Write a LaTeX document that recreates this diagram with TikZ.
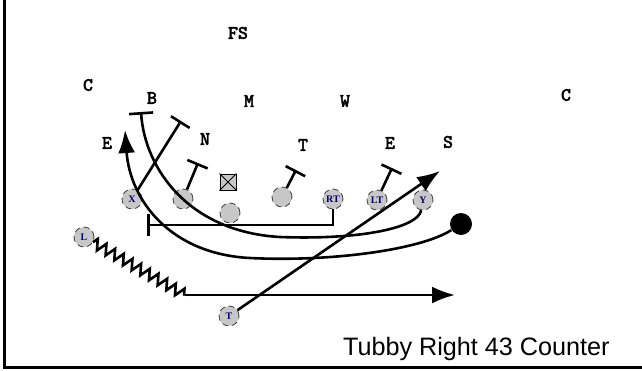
\documentclass[tikz,border=0pt]{standalone}
\usepackage{fontspec}
\setmainfont{Liberation Sans}
\newfontfamily\monob[AutoFakeBold=2.5]{Latin Modern Mono}
\newfontfamily\serifb{Liberation Serif}
\usetikzlibrary{arrows.meta,decorations.pathmorphing}

\begin{document}
\begin{tikzpicture}[
x=0.5pt, y=-0.5pt,
def/.style={font=\monob\bfseries\fontsize{9.5}{9.5}\selectfont, inner sep=0pt},
pl/.style={circle, draw=black!75, densely dashed, line width=0.4pt, fill=black!22, minimum size=10pt, inner sep=0pt, font=\serifb\bfseries\fontsize{5}{5}\selectfont, text=blue!40!black},
blk/.style={-{Bar[width=11pt]}, line width=1.3pt},
rte/.style={-{Latex[length=11.5pt, width=8.5pt]}, line width=1.3pt}
]
\useasboundingbox (0,0) rectangle (642,370);
\draw[line width=1.5pt] (4,0) -- (4,367) -- (642,367);

% defense
\node[def] (fs) at (238,33) {FS};
\node[def] (cl) at (88,85) {C};
\node[def] (b) at (152,98) {B};
\node[def] (m) at (249,101) {M};
\node[def] (w) at (345,101) {W};
\node[def] (cr) at (566,95) {C};
\node[def] (n) at (205,139) {N};
\node[def] (el) at (107,143) {E};
\node[def] (t) at (303,145) {T};
\node[def] (er) at (390,143) {E};
\node[def] (s) at (448,142) {S};

% offense
\node[pl] (x) at (132,199) {X};
\node[pl] (lg) at (183,199) {};
\node[draw, fill=black!22, minimum size=8pt, inner sep=0pt, line width=0.5pt] (ctr) at (228,182) {};
\draw[line width=0.4pt] (ctr.north west) -- (ctr.south east) (ctr.north east) -- (ctr.south west);
\node[pl] (qb) at (230,213) {};
\node[pl] (rg) at (282,197) {};
\node[pl] (rt) at (333,199) {RT};
\node[pl] (lt) at (377,200) {LT};
\node[pl] (y) at (423,200) {Y};
\node[pl] (l) at (84,237) {L};
\node[pl] (tb) at (229,316) {T};
\node[circle, fill=black, minimum size=11pt, inner sep=0pt] (rb) at (461,224) {};

\coordinate (bbar) at (141,112);
\coordinate (xbar) at (181,121);
\coordinate (lgbar) at (198,163);
\coordinate (rgbar) at (296,170);
\coordinate (ltbar) at (392,168);
\coordinate (rtbar) at (147,225);
\coordinate (ecut) at (125,130);
\coordinate (tend) at (440,171);
\coordinate (lturn) at (185,295);
\coordinate (lend) at (455,295);

% blocks
\draw[blk] (x) -- (xbar);
\draw[blk] (lg) -- (lgbar);
\draw[blk] (rg) -- (rgbar);
\draw[blk] (lt) -- (ltbar);
\draw[blk] (rt) |- (rtbar);
\draw[{Bar[width=12pt]}-, line width=1.3pt] (bbar) .. controls (145,170) and (190,232) .. (280,237) .. controls (360,240) and (418,228) .. (y);

% routes
\draw[rte] (rb) .. controls (420,250) and (330,262) .. (250,258) .. controls (170,254) and (130,200) .. (ecut);
\draw[rte] (tb) -- (tend);
\draw[line width=1.3pt, decorate, decoration={zigzag, segment length=5pt, amplitude=2.6pt}] (l) -- (lturn);
\draw[rte] (lturn) -- (lend);

\node[anchor=base west, font=\fontsize{12.6}{14}\selectfont] (title) at (336,355) {Tubby Right 43 Counter};
\end{tikzpicture}
\end{document}
